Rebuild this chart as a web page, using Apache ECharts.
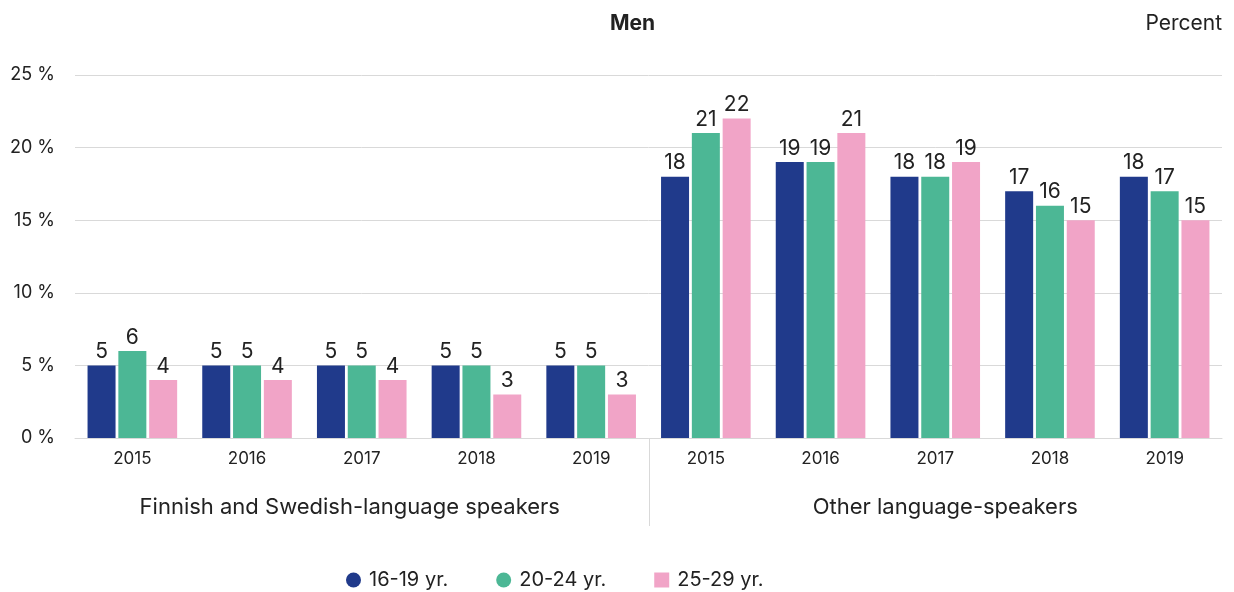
<!DOCTYPE html>
<html>
<head>
<meta charset="utf-8">
<script src="https://cdn.jsdelivr.net/npm/echarts@6/dist/echarts.min.js"></script>
<style>
html,body{margin:0;padding:0;background:#fff;}
#chart{width:1234px;height:592px;}
</style>
</head>
<body>
<div id="chart"></div>
<script>
const years = ['2015', '2016', '2017', '2018', '2019'];
const groups = ['Finnish and Swedish-language speakers', 'Other language-speakers'];
const seriesNames = ['16-19 yr.', '20-24 yr.', '25-29 yr.'];
const yTicks = [0, 5, 10, 15, 20, 25];

const finSwe1619 = [5, 5, 5, 5, 5];
const finSwe2024 = [6, 5, 5, 5, 5];
const finSwe2529 = [4, 4, 4, 3, 3];
const other1619 = [18, 19, 18, 17, 18];
const other2024 = [21, 19, 18, 16, 17];
const other2529 = [22, 21, 19, 15, 15];

const colors = ['#203a8b', '#4cb795', '#f1a4c7'];
const FONT = 'Inter, "Liberation Sans", sans-serif';
const TXT = '#222222';

const categories = [];
groups.forEach((g, gi) => years.forEach(y => categories.push(gi + '|' + y)));
const values = [
  finSwe1619.concat(other1619),
  finSwe2024.concat(other2024),
  finSwe2529.concat(other2529)
];

const chart = echarts.init(document.getElementById('chart'));
const option = {
  animation: false,
  textStyle: { fontFamily: FONT },
  color: colors,
  title: [
    { text: 'Men', left: 610, top: 13, padding: 0,
      textStyle: { fontFamily: FONT, fontSize: 21, fontWeight: 'bold', color: TXT } },
    { text: 'Percent', right: 12, top: 13, padding: 0,
      textStyle: { fontFamily: FONT, fontSize: 21, fontWeight: 'normal', color: TXT } }
  ],
  legend: {
    left: 346, top: 570, padding: 0,
    itemWidth: 15, itemHeight: 15, itemGap: 48,
    textStyle: { fontFamily: FONT, fontSize: 20, color: TXT, padding: [0, 0, 0, 3] },
    data: [
      { name: seriesNames[0], icon: 'circle' },
      { name: seriesNames[1], icon: 'circle' },
      { name: seriesNames[2], icon: 'rect' }
    ]
  },
  grid: { left: 75, right: 12, top: 75, bottom: 154, containLabel: false },
  xAxis: [
    {
      type: 'category', data: categories,
      axisLine: { show: true, lineStyle: { color: '#d9d9d9', width: 1 } },
      axisTick: { show: false },
      axisLabel: { margin: 12, fontFamily: FONT, fontSize: 17, color: TXT,
        formatter: v => v.split('|')[1] }
    },
    {
      type: 'category', position: 'bottom',
      data: [
        { value: groups[0], textStyle: { padding: [0, 24, 0, 0] } },
        { value: groups[1], textStyle: { padding: [0, 0, 0, 20] } }
      ],
      axisLine: { show: false }, axisTick: { show: false },
      axisLabel: { margin: 58, fontFamily: FONT, fontSize: 22, color: TXT }
    }
  ],
  yAxis: {
    type: 'value', min: yTicks[0], max: yTicks[yTicks.length - 1], interval: 5,
    axisLine: { show: false }, axisTick: { show: false },
    splitLine: { lineStyle: { color: '#d9d9d9', width: 1 } },
    axisLabel: { margin: 20, fontFamily: FONT, fontSize: 18, color: TXT, formatter: '{value} %' }
  },
  series: seriesNames.map((name, i) => ({
    name: name, type: 'bar', xAxisIndex: 0,
    data: values[i],
    barWidth: 28, barGap: '10%',
    itemStyle: { color: colors[i] },
    label: { show: true, position: 'top', distance: 3,
      fontFamily: FONT, fontSize: 21, color: TXT }
  }))
};
chart.setOption(option);

// divider between the two groups, placed through the axis scales
const xa = chart.convertToPixel({ xAxisIndex: 0 }, 4);
const xb = chart.convertToPixel({ xAxisIndex: 0 }, 5);
const y0 = chart.convertToPixel({ yAxisIndex: 0 }, 0);
const xd = Math.round((xa + xb) / 2) + 0.5;
chart.setOption({
  graphic: [{
    type: 'line', silent: true,
    shape: { x1: xd, y1: y0, x2: xd, y2: y0 + 88 },
    style: { stroke: '#d9d9d9', lineWidth: 1 }
  }]
});
</script>
</body>
</html>
